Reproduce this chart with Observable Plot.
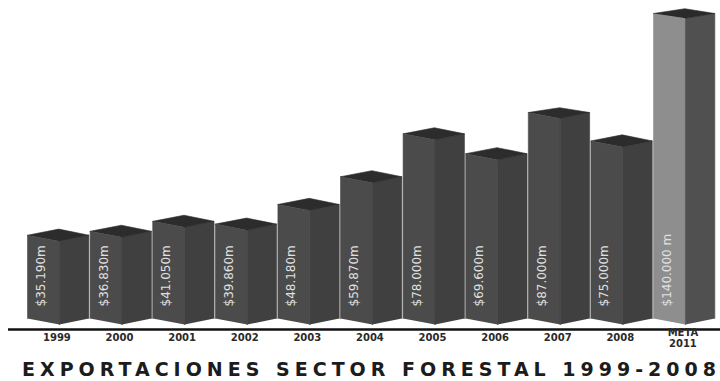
<!DOCTYPE html>
<html>
<head>
<meta charset="utf-8">
<script src="https://cdn.jsdelivr.net/npm/d3@7"></script>
<script src="https://cdn.jsdelivr.net/npm/@observablehq/plot@0.6"></script>
<style>
  html, body { margin: 0; padding: 0; background: #ffffff; }
  #chart svg { display: block; }
  #title {
    font-family: "DejaVu Sans", sans-serif;
    font-weight: bold;
    font-size: 19px;
    color: #1c1c1c;
    white-space: nowrap;
    line-height: 38px;
    margin-left: 22px;
  }
</style>
</head>
<body>
<div id="chart"></div>
<div id="title">EXPORTACIONES SECTOR FORESTAL 1999-2008</div>
<script>
// ---- data ----
const years = ["1999", "2000", "2001", "2002", "2003", "2004", "2005", "2006", "2007", "2008", "META\n2011"];
const values = [35.19, 36.83, 41.05, 39.86, 48.18, 59.87, 78.0, 69.6, 87.0, 75.0, 140.0];
const valueLabels = ["$35.190m", "$36.830m", "$41.050m", "$39.860m", "$48.180m", "$59.870m", "$78.000m", "$69.600m", "$87.000m", "$75.000m", "$140.000 m"];
const goalIndex = 10;

// ---- geometry (in band units) ----
const F = 0.51;   // front face width
const R = 0.98;   // total bar width
const C = 0.50;   // back apex position
const A = 2.56;   // isometric drop (value units)

function poly(id, pts) { return pts.map(([x, y]) => ({id, x, y})); }
const frontFaces = [], sideFaces = [], topFaces = [], frontGoal = [], sideGoal = [], topGoal = [];
values.forEach((v, i) => {
  const g = i === goalIndex;
  (g ? frontGoal : frontFaces).push(...poly("f" + i, [[i, 0], [i, v], [i + F, v - A], [i + F, -A]]));
  (g ? sideGoal : sideFaces).push(...poly("s" + i, [[i + F, -A], [i + F, v - A], [i + R, v], [i + R, 0]]));
  (g ? topGoal : topFaces).push(...poly("t" + i, [[i, v], [i + C, v + A], [i + R, v], [i + F, v - A]]));
});
const labelRows = values.map((v, i) => ({i, label: valueLabels[i], year: years[i]}));

const W = 720, H = 350;
const face = (data, color) => Plot.line(data, {x: "x", y: "y", z: "id", fill: color, stroke: color, strokeWidth: 0.6});

const chart = Plot.plot({
  width: W,
  height: H,
  marginTop: 0,
  marginBottom: H - 318,
  marginLeft: 8,
  marginRight: 0,
  style: {background: "#ffffff", fontFamily: "DejaVu Sans, sans-serif"},
  x: {type: "linear", domain: [0, 11], range: [27, 27 + 62.6 * 11], axis: null},
  y: {type: "linear", domain: [0, 87, 140], range: [318, 112, 13], axis: null},
  marks: [
    face(frontFaces, "#4b4b4b"),
    face(sideFaces, "#404040"),
    face(topFaces, "#2c2c2c"),
    face(frontGoal, "#8e8e8e"),
    face(sideGoal, "#505050"),
    face(topGoal, "#2a2a2a"),
    Plot.text(labelRows, {
      x: d => d.i + 0.28, frameAnchor: "bottom", dy: -12,
      text: "label", rotate: -90, textAnchor: "start",
      fill: "#e0e0e0", fontSize: 12, fontWeight: 500
    }),
    Plot.ruleY([0], {dy: 11, stroke: "#111111", strokeWidth: 2.5}),
    Plot.text(labelRows, {
      x: d => d.i + 0.47, y: 0, dy: 19,
      text: "year", fill: "#2a2a2a", fontSize: 10, fontWeight: "bold", lineHeight: 1.1
    })
  ]
});
document.getElementById("chart").appendChild(chart);

// stretch the title to the reference span (22 -> 716)
const titleEl = document.getElementById("title");
const rng = document.createRange();
rng.selectNodeContents(titleEl);
const natural = rng.getBoundingClientRect().width;
const nChars = titleEl.textContent.length;
titleEl.style.letterSpacing = ((694 - natural) / (nChars - 1)) + "px";
</script>
</body>
</html>
